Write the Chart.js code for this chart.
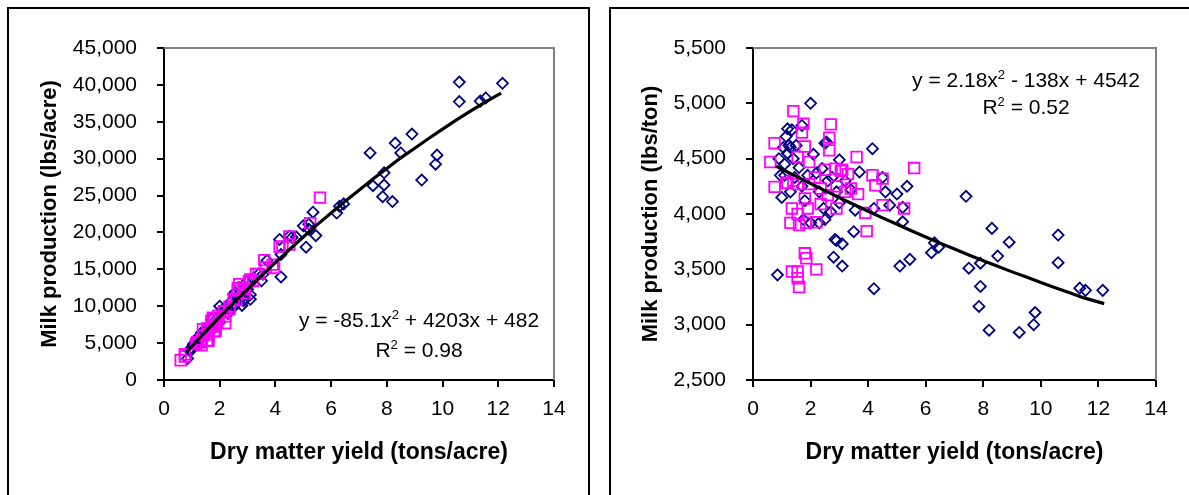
<!DOCTYPE html>
<html><head><meta charset="utf-8">
<script src="https://cdn.jsdelivr.net/npm/chart.js@4/dist/chart.umd.min.js"></script>
<style>
html,body{margin:0;padding:0;background:#fff;width:1189px;height:495px;overflow:hidden;position:relative}
.box{position:absolute;border:2px solid #000;box-sizing:border-box}
#boxL{left:7px;top:7px;width:583px;height:600px}
#boxR{left:609px;top:7px;width:700px;height:600px}
canvas{position:absolute;top:0}
#cL{left:0}
#cR{left:595px}
</style></head><body>
<div class="box" id="boxL"></div><div class="box" id="boxR"></div>
<canvas id="cL" width="595" height="495"></canvas>
<canvas id="cR" width="594" height="495"></canvas>
<script>
// ---- data ----
const navyYield = [0.85,2.0,4.15,3.0,2.55,3.7,4.5,4.6,5.0,5.35,5.2,4.75,4.2,3.55,5.2,3.5,2.85,2.9,3.1,2.8,3.1,4.2,5.1,5.45,6.2,6.3,6.45,7.4,7.5,7.9,7.9,7.85,8.2,8.3,8.5,8.9,9.25,9.75,9.8,10.6,10.6,11.35,11.55,12.15,1.0,0.95,1.1,1.2,1.25,1.15,1.2,1.35,1.3,1.4,1.5,1.7,1.6,1.3,1.45,1.7,1.8,1.9,2.1,2.2,2.4,2.5,2.3,2.45,2.6,2.75,2.9,3.2,3.4,2.7,2.3,2.0,1.75,2.5,3.0,1.1,0.9,1.05];
const navyMilkPerAcre = [2930,10000,19050,13470,11860,16210,19490,19320,20900,22740,21110,19380,17010,14320,20440,13440,10740,10900,11560,10110,10940,13970,18000,19570,22630,23560,23870,30780,26330,28080,26430,24850,24190,32120,30770,33330,27100,29250,30480,40390,37740,37800,38230,40220,4150,4130,4900,5460,5780,5410,5720,6430,5980,6300,6930,8160,7070,5460,6280,7230,7420,8270,9530,9610,10580,11600,9660,9920,11180,11910,12180,13760,14350,10850,9020,7840,6910,9880,12300,4790,4050,4830];
const navyMilkPerTon = [3450,5000,4590,4490,4650,4380,4330,4200,4180,4250,4060,4080,4050,4035,3930,3840,3770,3760,3730,3610,3530,3325,3530,3590,3650,3740,3700,4160,3510,3555,3345,3165,2950,3870,3620,3745,2930,3000,3110,3810,3560,3330,3310,3310,4150,4350,4450,4550,4620,4700,4770,4760,4600,4500,4620,4800,4420,4200,4330,4250,4120,4350,4540,4370,4410,4640,4200,4050,4300,4330,4200,4300,4220,4020,3920,3920,3950,3950,4100,4350,4500,4600];

const magentaYield = [1.4,2.7,1.75,1.7,2.65,2.65,0.75,1.8,1.55,0.6,1.95,3.6,5.6,0.75,1.2,1.4,1.55,2.15,2.5,2.85,3.05,3.3,4.15,4.5,4.25,3.65,3.4,2.9,2.35,1.95,4.5,5.25,3.9,3.95,2.9,2.35,1.8,1.35,1.55,1.3,1.6,1.85,2.2,1.9,1.8,1.85,2.2,1.35,1.55,1.55,1.6,3.1,2.6,3.2,1.15];
const magentaMilkPerAcre = [6900,12990,8430,8050,12430,12120,3480,8300,7000,2680,8720,16250,24720,3180,5140,6020,6620,9310,11000,12570,13390,14390,18050,19440,18110,15260,14380,12330,9940,8330,18360,21260,15640,15190,11750,9610,7450,5470,6200,5100,6240,7250,8640,7700,6560,6660,7700,4700,5390,5300,5340,13640,10840,13440,4920];
const magentaMilkPerTon = [4930,4810,4815,4735,4690,4575,4640,4610,4515,4470,4470,4515,4415,4245,4280,4300,4270,4330,4400,4410,4390,4360,4350,4320,4260,4180,4230,4250,4230,4270,4080,4050,4010,3845,4050,4090,4140,4050,4000,3920,3900,3920,3925,4050,3645,3600,3500,3480,3480,3420,3340,4400,4170,4200,4280];

const trendAcreX = [0.8,1,1.5,2,2.5,3,3.5,4,4.5,5,5.5,6,6.5,7,7.5,8,8.5,9,9.5,10,10.5,11,11.5,12.1];
const trendAcreY = [3790,4600,6600,8550,10460,12320,14150,15930,17680,19390,21060,22640,24230,25730,27250,28660,30110,31420,32740,34000,35260,36440,37600,38890];
const trendTonX = [0.8,1,1.5,2,2.5,3,3.5,4,4.5,5,5.5,6,6.5,7,7.5,8,8.5,9,9.5,10,10.5,11,11.5,12.2];
const trendTonY = [4433,4406,4340,4275,4211,4148,4086,4025,3965,3907,3849,3793,3737,3683,3630,3578,3527,3477,3430,3380,3333,3288,3242,3190];

const xTickValues = [0,2,4,6,8,10,12,14];
const xTickLabels = ['0','2','4','6','8','10','12','14'];
const acreTickValues = [0,5000,10000,15000,20000,25000,30000,35000,40000,45000];
const acreTickLabels = ['0','5,000','10,000','15,000','20,000','25,000','30,000','35,000','40,000','45,000'];
const tonTickValues = [2500,3000,3500,4000,4500,5000,5500];
const tonTickLabels = ['2,500','3,000','3,500','4,000','4,500','5,000','5,500'];

const xTitle = 'Dry matter yield (tons/acre)';
const acreTitle = 'Milk production (lbs/acre)';
const tonTitle = 'Milk production (lbs/ton)';
const acreEquation = [['y = -85.1x','2',' + 4203x + 482'],['R','2',' = 0.98']];
const tonEquation = [['y = 2.18x','2',' - 138x + 4542'],['R','2',' = 0.52']];

// ---- drawing ----
const FAM = '"Liberation Sans", Arial, sans-serif';
Chart.defaults.font.family = FAM;

const pts = (xs, ys) => xs.map((x, i) => ({x, y: ys[i]}));

const framePlugin = {
  id: 'frame',
  beforeDatasetsDraw(chart) {
    const {ctx, chartArea: a} = chart;
    ctx.save();
    ctx.strokeStyle = '#808080';
    ctx.lineWidth = 2;
    ctx.beginPath();
    ctx.moveTo(a.left, a.top);
    ctx.lineTo(a.right, a.top);
    ctx.lineTo(a.right, a.bottom);
    ctx.stroke();
    ctx.restore();
  }
};

const eqPlugin = {
  id: 'eq',
  afterDraw(chart) {
    const o = chart.options.plugins.eq;
    if (!o) return;
    const ctx = chart.ctx;
    ctx.save();
    ctx.fillStyle = '#000';
    ctx.textBaseline = 'alphabetic';
    ctx.textAlign = 'left';
    const main = '21px ' + FAM, sup = '13px ' + FAM;
    o.lines.forEach((segs, li) => {
      let w = 0;
      segs.forEach((s, i) => { ctx.font = i === 1 ? sup : main; w += ctx.measureText(s).width; });
      let x = o.cx - w / 2;
      const y = o.ys[li];
      segs.forEach((s, i) => {
        ctx.font = i === 1 ? sup : main;
        ctx.fillText(s, x, i === 1 ? y - 8 : y);
        x += ctx.measureText(s).width;
      });
    });
    ctx.restore();
  }
};

function makeChart(id, cfg) {
  const tickFont = {family: FAM, size: 21};
  const yTitleFont = {family: FAM, size: 22, weight: 'bold'};
  const xTitleFont = {family: FAM, size: 23, weight: 'bold'};
  new Chart(document.getElementById(id), {
    type: 'scatter',
    data: {
      datasets: [
        {type: 'line', data: pts(cfg.trendX, cfg.trendY), borderColor: '#000', borderWidth: 3.2,
         pointRadius: 0, fill: false, tension: 0, order: 0},
        {data: pts(magentaYield, cfg.magY), pointStyle: 'rect', pointRadius: 7.5, pointBorderWidth: 1.8,
         pointBorderColor: '#FF00FF', pointBackgroundColor: 'rgba(0,0,0,0)', order: 1},
        {data: pts(navyYield, cfg.navY), pointStyle: 'rectRot', pointRadius: 5.5, pointBorderWidth: 1.8,
         pointBorderColor: '#000080', pointBackgroundColor: 'rgba(0,0,0,0)', order: 2}
      ]
    },
    options: {
      responsive: false, animation: false, devicePixelRatio: 1,
      layout: {padding: {left: 0, top: 48, right: cfg.padRight, bottom: 0}},
      plugins: {legend: {display: false}, tooltip: {enabled: false}, eq: cfg.eq},
      scales: {
        x: {
          type: 'linear', position: 'bottom', min: 0, max: 14,
          afterBuildTicks: s => { s.ticks = xTickValues.map(v => ({value: v})); },
          ticks: {callback: (v, i) => xTickLabels[i], font: tickFont, color: '#000', padding: 10, maxRotation: 0, autoSkip: false},
          grid: {drawOnChartArea: false, color: '#000', lineWidth: 2, tickLength: 7},
          border: {color: '#000', width: 2},
          title: {display: true, text: xTitle, font: xTitleFont, color: '#000', padding: {top: 0, bottom: 29}},
          afterFit: s => { s.height = 115; }
        },
        y: {
          type: 'linear', position: 'left', min: cfg.yMin, max: cfg.yMax,
          afterBuildTicks: s => { s.ticks = cfg.yTickValues.map(v => ({value: v})); },
          ticks: {callback: (v, i) => cfg.yTickLabels[i], font: tickFont, color: '#000', padding: 20, autoSkip: false},
          grid: {drawOnChartArea: false, color: '#000', lineWidth: 2, tickLength: 7},
          border: {color: '#000', width: 2},
          title: {display: true, text: cfg.yTitle, font: yTitleFont, color: '#000', padding: {top: cfg.yTitlePad, bottom: 0}},
          afterFit: s => { s.width = cfg.yWidth; }
        }
      }
    },
    plugins: [framePlugin, eqPlugin]
  });
}

makeChart('cL', {
  trendX: trendAcreX, trendY: trendAcreY, magY: magentaMilkPerAcre, navY: navyMilkPerAcre,
  yMin: 0, yMax: 45000, yTickValues: acreTickValues, yTickLabels: acreTickLabels, yTitle: acreTitle,
  yTitlePad: 37, yWidth: 164, padRight: 41,
  eq: {lines: acreEquation, cx: 419, ys: [327, 357]}
});
makeChart('cR', {
  trendX: trendTonX, trendY: trendTonY, magY: magentaMilkPerTon, navY: navyMilkPerTon,
  yMin: 2500, yMax: 5500, yTickValues: tonTickValues, yTickLabels: tonTickLabels, yTitle: tonTitle,
  yTitlePad: 43, yWidth: 158, padRight: 33,
  eq: {lines: tonEquation, cx: 431, ys: [87, 114]}
});
</script></body></html>
